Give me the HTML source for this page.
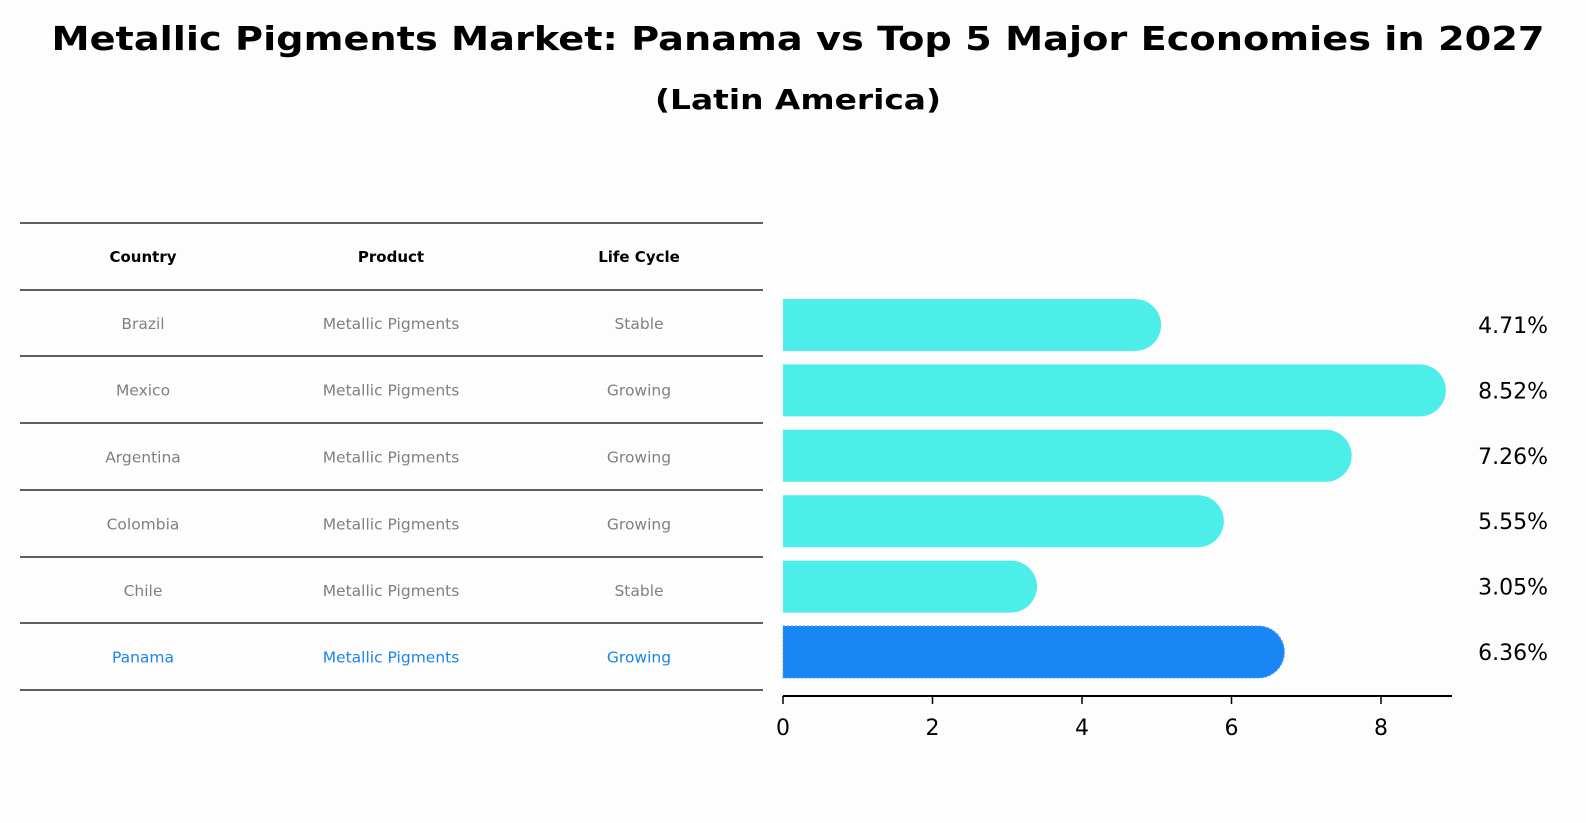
<!DOCTYPE html>
<html><head><meta charset="utf-8"><style>
body{margin:0;background:#fdfdfd;}
svg{display:block;font-family:"DejaVu Sans","Liberation Sans",sans-serif;}
</style></head><body>
<svg id="chart" width="1586" height="823" viewBox="0 0 1586 823">
<rect width="1586" height="823" fill="#fdfdfd"/>
<text x="798" y="50" text-anchor="middle" font-size="33" font-weight="bold" textLength="1493" lengthAdjust="spacingAndGlyphs">Metallic Pigments Market: Panama vs Top 5 Major Economies in 2027</text>
<text x="798" y="109" text-anchor="middle" font-size="28" font-weight="bold" textLength="286" lengthAdjust="spacingAndGlyphs">(Latin America)</text>
<g id="table"></g>
<g id="bars"></g>
</svg>
<script>
const countries=["Brazil","Mexico","Argentina","Colombia","Chile","Panama"];
const products=["Metallic Pigments","Metallic Pigments","Metallic Pigments","Metallic Pigments","Metallic Pigments","Metallic Pigments"];
const lifeCycles=["Stable","Growing","Growing","Growing","Stable","Growing"];
const values=[4.71,8.52,7.26,5.55,3.05,6.36];
const ticks=[0,2,4,6,8];
const NS="http://www.w3.org/2000/svg";
function mk(tag,attrs,parent,text){const e=document.createElementNS(NS,tag);for(const k in attrs)e.setAttribute(k,attrs[k]);if(text!==undefined)e.textContent=text;parent.appendChild(e);return e;}
const table=document.getElementById('table');
const bars=document.getElementById('bars');
const lineYs=[223,290,356,423,490,557,623,690];
const colX=[143,391,639];
// table
lineYs.forEach((y,i)=>{
 const l=mk('line',{x1:20,x2:763,y1:y,y2:y,stroke:'#000','stroke-width':1.2},table);
 
 
});
["Country","Product","Life Cycle"].forEach((h,i)=>{
 const t=mk('text',{x:colX[i],y:262,'text-anchor':'middle','font-size':15,'font-weight':'bold'},table,h);
 
 
});
countries.forEach((c,i)=>{
 const y=(lineYs[i+1]+lineYs[i+2])/2+6;
 const col=c==="Panama"?'#1a85e8':'#808080';
 [c,products[i],lifeCycles[i]].forEach((v,j)=>{
  const t=mk('text',{x:colX[j],y:y,'text-anchor':'middle','font-size':15.5,fill:col},table,v);
  
  
 });
});
// bar chart
const x0=783,pxPerUnit=(1381-783)/8;
const xs=v=>x0+v*pxPerUnit;
const yTop=299,step=65.4,barH=52;
values.forEach((v,i)=>{
 const y=yTop+i*step;
 const r=barH/2;
 const xe=xs(v);
 const col=countries[i]==="Panama"?'#1a85f5':'#4deeea';
 const p=mk('path',{d:`M${x0},${y} H${xe} A${r},${r} 0 0 1 ${xe},${y+barH} H${x0} Z`,fill:col},bars);
 
 
 if(countries[i]==="Panama"){p.setAttribute('stroke','#4a9ef0');p.setAttribute('stroke-dasharray','2 2');p.setAttribute('stroke-width','1');}
 const t=mk('text',{x:1548,y:y+barH/2+8,'text-anchor':'end','font-size':22},bars,values[i].toFixed(2)+'%');
 
 
});
const ax=mk('line',{x1:x0,x2:1452,y1:696,y2:696,stroke:'#000','stroke-width':2},bars);


ticks.forEach(t=>{
 const l=mk('line',{x1:xs(t),x2:xs(t),y1:696,y2:704,stroke:'#000','stroke-width':1.5},bars);
 
 
 const tx=mk('text',{x:xs(t),y:735,'text-anchor':'middle','font-size':22},bars,String(t));
 
 
});
</script>
</body></html>
